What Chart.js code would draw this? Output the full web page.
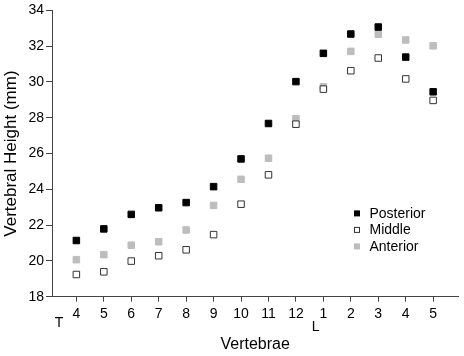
<!DOCTYPE html>
<html>
<head>
<meta charset="utf-8">
<script src="https://cdn.jsdelivr.net/npm/chart.js@4/dist/chart.umd.min.js"></script>
<style>
html,body{margin:0;padding:0;background:#fff;}
#wrap{width:464px;height:356px;position:relative;}
</style>
</head>
<body>
<div id="wrap"><canvas id="c" width="464" height="356"></canvas></div>
<script>
const categories = ['4','5','6','7','8','9','10','11','12','1','2','3','4','5'];
const regionLabels = ['T','L'];
const regionStart = [0, 9];
const posterior = [21.14,21.79,22.60,22.97,23.26,24.15,25.70,27.68,30.02,31.60,32.68,33.07,31.39,29.45];
const middle    = [19.24,19.39,19.99,20.29,20.62,21.47,23.17,24.81,27.64,29.60,30.63,31.34,30.17,28.97];
const anterior  = [20.07,20.35,20.88,21.07,21.73,23.10,24.56,25.74,27.94,29.73,31.71,32.67,32.35,32.02];
const yTicks = [18,20,22,24,26,28,30,32,34];

const FONT = "'Liberation Sans', Arial, Helvetica, sans-serif";
const toPts = arr => arr.map((v,i)=>({x:i,y:v}));

const legendPlugin = {
  id:'customLegend',
  afterDraw(chart){
    const ctx = chart.ctx;
    const ca = chart.chartArea;
    const x0 = ca.left + 305, y0 = ca.top + 203, dy = 16.5, s = 6;
    ctx.save();
    ctx.font = '14px ' + FONT;
    ctx.textBaseline = 'middle';
    ctx.textAlign = 'left';
    chart.data.datasets.forEach((ds,i)=>{
      const y = y0 + i*dy;
      ctx.fillStyle = ds.backgroundColor;
      ctx.fillRect(x0 - s/2, y - s/2, s, s);
      if (ds.hollow){
        ctx.strokeStyle = ds.borderColor;
        ctx.lineWidth = 1;
        ctx.strokeRect(x0 - s/2 + 0.5, y - s/2 + 0.5, s-1, s-1);
      }
      ctx.fillStyle = '#000';
      ctx.fillText(ds.label, x0 + 12.5, y + 0.5);
    });
    ctx.restore();
  }
};

const regionPlugin = {
  id:'regionLabels',
  afterDraw(chart){
    const ctx = chart.ctx;
    const xs = chart.scales.x;
    const ca = chart.chartArea;
    ctx.save();
    ctx.font = '14px ' + FONT;
    ctx.fillStyle = '#000';
    ctx.textAlign = 'center';
    ctx.textBaseline = 'middle';
    const offs = [[-0.63, 26],[-0.28, 30]];
    regionLabels.forEach((lab,i)=>{
      const x = xs.getPixelForValue(regionStart[i] + offs[i][0]);
      ctx.fillText(lab, x, ca.bottom + offs[i][1]);
    });
    ctx.restore();
  }
};

new Chart(document.getElementById('c'), {
  type:'scatter',
  data:{
    datasets:[
      {label:'Posterior', data:toPts(posterior), backgroundColor:'#000', borderColor:'#000', borderWidth:1, pointStyle:'rect', pointRadius:4.6},
      {label:'Middle', data:toPts(middle), backgroundColor:'#fff', borderColor:'#333', borderWidth:1, pointStyle:'rect', pointRadius:4.6, hollow:true},
      {label:'Anterior', data:toPts(anterior), backgroundColor:'#bdbdbd', borderColor:'#bdbdbd', borderWidth:1, pointStyle:'rect', pointRadius:4.6}
    ]
  },
  options:{
    responsive:false,
    animation:false,
    devicePixelRatio:1,
    layout:{padding:{top:8.3,left:0,right:0,bottom:0}},
    plugins:{legend:{display:false}, tooltip:{enabled:false}},
    scales:{
      x:{
        type:'linear', min:-0.888, max:13.92,
        afterFit(s){ s.height = 59.3; },
        afterBuildTicks(s){ s.ticks = categories.map((c,i)=>({value:i})); },
        ticks:{ callback:(v)=>categories[v], color:'#000', font:{family:FONT,size:14}, padding:4, maxRotation:0, autoSkip:false },
        grid:{ drawOnChartArea:false, drawTicks:true, tickLength:5, color:'#444' },
        border:{ display:true, color:'#444', width:1 },
        title:{ display:true, text:'Vertebrae', color:'#000', font:{family:FONT,size:16}, padding:{top:0,bottom:2} }
      },
      y:{
        type:'linear', min:18, max:34,
        afterFit(s){ s.width = 52; },
        afterBuildTicks(s){ s.ticks = yTicks.map(v=>({value:v})); },
        ticks:{ color:'#000', font:{family:FONT,size:14}, padding:2 },
        grid:{ drawOnChartArea:false, drawTicks:true, tickLength:6, color:'#444' },
        border:{ display:true, color:'#444', width:1 },
        title:{ display:true, text:'Vertebral Height (mm)', color:'#000', font:{family:FONT,size:17}, padding:{top:1,bottom:0} }
      }
    }
  },
  plugins:[legendPlugin, regionPlugin]
});
</script>
</body>
</html>
